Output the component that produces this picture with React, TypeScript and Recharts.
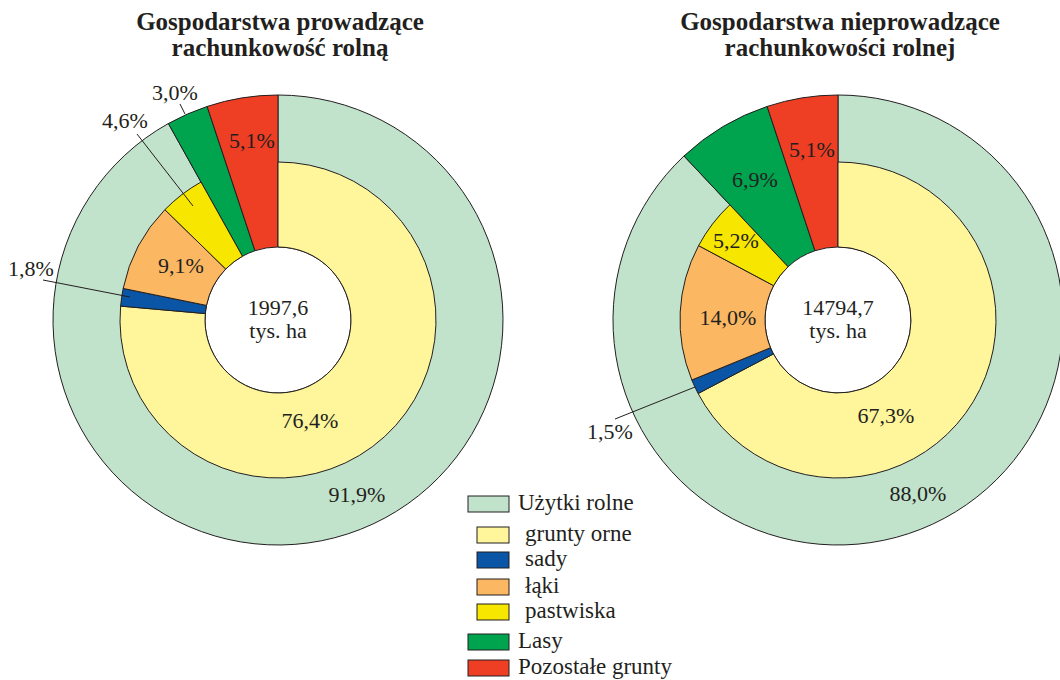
import { PieChart, Pie, Cell } from 'recharts';

// Struktura użytkowania gruntów – dwa wykresy pierścieniowe
const INNER_NAMES = ['grunty orne', 'sady', 'łąki', 'pastwiska', 'Lasy', 'Pozostałe grunty'];
const OUTER_NAMES = ['Użytki rolne', 'Lasy', 'Pozostałe grunty'];

const LEFT_INNER = [76.4, 1.8, 9.1, 4.6, 3.0, 5.1];
const LEFT_OUTER = [91.9, 3.0, 5.1];
const RIGHT_INNER = [67.3, 1.5, 14.0, 5.2, 6.9, 5.1];
const RIGHT_OUTER = [88.0, 6.9, 5.1];

const TOTALS = ['1997,6', '14794,7'];
const TITLES = [
  ['Gospodarstwa prowadzące', 'rachunkowość rolną'],
  ['Gospodarstwa nieprowadzące', 'rachunkowości rolnej'],
];

const LEGEND_NAMES = ['Użytki rolne', 'grunty orne', 'sady', 'łąki', 'pastwiska', 'Lasy', 'Pozostałe grunty'];
const LEGEND_SUB = [false, true, true, true, true, false, false];

const COLORS: Record<string, string> = {
  'Użytki rolne': '#c1e2cb',
  'grunty orne': '#fff59b',
  sady: '#0a55a5',
  'łąki': '#fbb762',
  pastwiska: '#f7e600',
  Lasy: '#00a34e',
  'Pozostałe grunty': '#ee3e24',
};

const INK = '#231f20';
const FONT = '"Liberation Serif", "Times New Roman", serif';

const CY = 320;
const CENTERS = [278, 838];
const R_HOLE = 73;
const R_MID = 158;
const R_OUT = 225;

type Placement = { x: number; y: number; line?: [number, number, number, number] };

// label placement for inner ring (by index) and the outer 'Użytki rolne' label
const INNER_POS: Placement[][] = [
  [
    { x: 310, y: 428 },
    { x: 31, y: 276, line: [43, 280, 130, 297] },
    { x: 181, y: 273 },
    { x: 125, y: 128, line: [137, 134, 193, 206] },
    { x: 175, y: 100, line: [180, 104, 185, 114] },
    { x: 252, y: 148 },
  ],
  [
    { x: 886, y: 423 },
    { x: 610, y: 439, line: [615, 419, 695, 387] },
    { x: 728, y: 325 },
    { x: 736, y: 248 },
    { x: 755, y: 187 },
    { x: 812, y: 157 },
  ],
];
const OUTER_POS: Placement[] = [
  { x: 357, y: 502 },
  { x: 918, y: 501 },
];

const fmt = (v: number) => `${v.toFixed(1).replace('.', ',')}%`;

const toData = (names: string[], values: number[]) =>
  names.map((name, i) => ({ name, value: values[i] }));

const charts = [
  { inner: toData(INNER_NAMES, LEFT_INNER), outer: toData(OUTER_NAMES, LEFT_OUTER) },
  { inner: toData(INNER_NAMES, RIGHT_INNER), outer: toData(OUTER_NAMES, RIGHT_OUTER) },
];

export default function App() {
  return (
    <div style={{ position: 'absolute', left: 0, top: 0, width: 1060, height: 680, background: '#fff', overflow: 'hidden' }}>
      <PieChart width={1060} height={680} margin={{ top: 0, right: 0, bottom: 0, left: 0 }}>
        {charts.map((c, ci) => [
          <Pie
            key={`outer-${ci}`}
            data={c.outer}
            dataKey="value"
            nameKey="name"
            cx={CENTERS[ci]}
            cy={CY}
            innerRadius={R_HOLE}
            outerRadius={R_OUT}
            startAngle={90}
            endAngle={-270}
            isAnimationActive={false}
            stroke={INK}
            strokeWidth={1}
          >
            {c.outer.map((d) => (
              <Cell key={d.name} fill={COLORS[d.name]} stroke={INK} strokeWidth={1} />
            ))}
          </Pie>,
          <Pie
            key={`inner-${ci}`}
            data={c.inner}
            dataKey="value"
            nameKey="name"
            cx={CENTERS[ci]}
            cy={CY}
            innerRadius={R_HOLE}
            outerRadius={R_MID}
            startAngle={90}
            endAngle={-270}
            isAnimationActive={false}
          >
            {c.inner.map((d, i) =>
              i < 4 ? (
                <Cell key={d.name} fill={COLORS[d.name]} stroke={INK} strokeWidth={1} />
              ) : (
                <Cell key={d.name} fill="none" stroke="none" />
              )
            )}
          </Pie>,
        ])}
      </PieChart>

      <svg
        width={1060}
        height={680}
        style={{ position: 'absolute', left: 0, top: 0, pointerEvents: 'none' }}
        fontFamily={FONT}
      >
        {TITLES.map((lines, ci) => (
          <text key={`t-${ci}`} x={CENTERS[ci] + 2} y={30} textAnchor="middle" fontSize={25} fontWeight="bold" fill={INK}>
            <tspan x={CENTERS[ci] + 2} y={30}>{lines[0]}</tspan>
            <tspan x={CENTERS[ci] + 2} y={56}>{lines[1]}</tspan>
          </text>
        ))}

        {TOTALS.map((t, ci) => (
          <text key={`c-${ci}`} textAnchor="middle" fontSize={22} fill={INK}>
            <tspan x={CENTERS[ci]} y={315}>{t}</tspan>
            <tspan x={CENTERS[ci]} y={338}>tys. ha</tspan>
          </text>
        ))}

        {charts.map((c, ci) =>
          c.inner.map((d, i) => {
            const p = INNER_POS[ci][i];
            return (
              <g key={`l-${ci}-${i}`}>
                {p.line && (
                  <line x1={p.line[0]} y1={p.line[1]} x2={p.line[2]} y2={p.line[3]} stroke={INK} strokeWidth={1} />
                )}
                <text x={p.x} y={p.y} textAnchor="middle" fontSize={22} fill={INK}>
                  {fmt(d.value)}
                </text>
              </g>
            );
          })
        )}

        {charts.map((c, ci) => (
          <text key={`o-${ci}`} x={OUTER_POS[ci].x} y={OUTER_POS[ci].y} textAnchor="middle" fontSize={22} fill={INK}>
            {fmt(c.outer[0].value)}
          </text>
        ))}

        {LEGEND_NAMES.map((name, i) => {
          const rowY = [504, 535, 560, 587, 612, 642, 668][i];
          const sub = LEGEND_SUB[i];
          const x = sub ? 477 : 468;
          const w = sub ? 32 : 41;
          return (
            <g key={`lg-${name}`}>
              <rect x={x} y={rowY - 8} width={w} height={16} fill={COLORS[name]} stroke={INK} strokeWidth={1} />
              <text x={sub ? 525 : 518} y={rowY + 6} fontSize={23} fill={INK}>
                {name}
              </text>
            </g>
          );
        })}
      </svg>
    </div>
  );
}
